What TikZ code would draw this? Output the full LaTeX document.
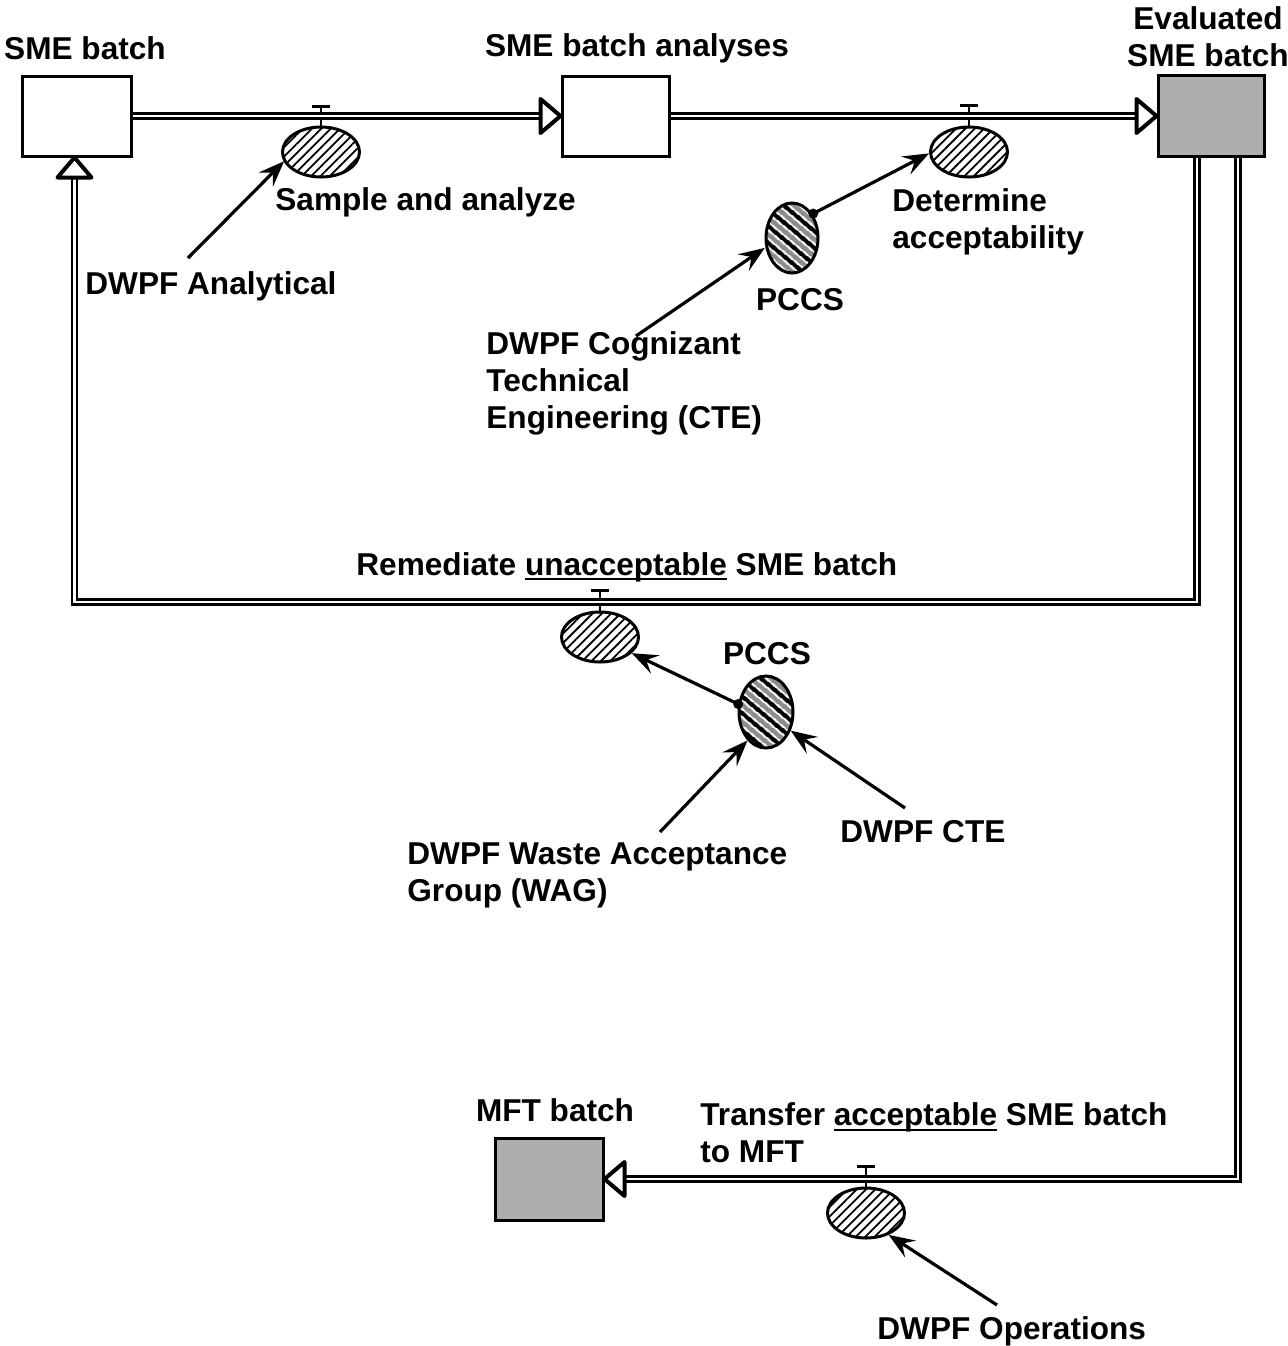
\documentclass[tikz,border=0pt]{standalone}
\usepackage{fontspec}
\setmainfont{Liberation Sans}
\usetikzlibrary{arrows.meta,shapes.geometric,patterns.meta,calc}
\newcommand\ulx[1]{\setbox0\hbox{#1}\rlap{\rule[-2.7pt]{\wd0}{1.1pt}}\box0\relax}
\begin{document}
\begin{tikzpicture}[x=0.5pt,y=-0.5pt,
  lbl/.style={font=\bfseries\fontsize{15.8}{18.5}\selectfont, inner sep=0pt, align=left},
  store/.style={draw, line width=1.5pt, rectangle, inner sep=0pt},
  act/.style={ellipse, draw, line width=1.5pt, inner sep=0pt, minimum width=38.5pt, minimum height=25pt,
    preaction={fill=white}, pattern={Lines[angle=45,distance=3.3pt,line width=0.9pt]}},
  mech/.style={ellipse, draw, line width=1.5pt, inner sep=0pt, minimum width=26pt, minimum height=35pt,
    preaction={fill=white},
    preaction={pattern={Lines[angle=-40,distance=6.5pt,line width=2.4pt,yshift=4.24pt]}, pattern color=black!45},
    pattern={Lines[angle=-40,distance=6.5pt,line width=2.2pt]}},
  flow/.style={double, double distance=1.3pt, line width=1.2pt, shorten >=9.5pt},
  otip/.style={draw, fill=white, line width=2pt, line join=round},
  ctrl/.style={line width=1.6pt, -{Stealth[length=13pt,width=10pt,inset=5pt]}},
  stem/.style={line width=1pt},
  bar/.style={line width=1.5pt},
]
\useasboundingbox (0,0) rectangle (1288,1346);

% stores
\node[store, minimum width=54.5pt, minimum height=40pt] (sme) at (76.5,116) {};
\node[store, minimum width=53.5pt, minimum height=40pt] (ana) at (615.5,116) {};
\node[store, fill=black!32, minimum width=53pt, minimum height=40.5pt] (eval) at (1211,116) {};
\node[store, fill=black!32, minimum width=54pt, minimum height=41pt] (mft) at (549,1179) {};

% activities
\node[act] (act1) at (321,152) {};
\node[act] (act2) at (969,152) {};
\node[act] (act3) at (600,637) {};
\node[act] (act4) at (866,1213) {};

% mechanisms
\node[mech] (mech1) at (792,238) {};
\node[mech, minimum width=27pt, minimum height=36pt] (mech2) at (766,712) {};

% valves
\foreach \a in {act1,act2,act3,act4}{
  \draw[stem] (\a.north) -- ++(0,-20) coordinate (t\a);
  \draw[bar] ($(t\a)+(-9,0)$) -- ($(t\a)+(9,0)$);
}

% flows
\draw[flow] (sme.east) -- (ana.west);
\draw[otip] (ana.west) -- ++(-20,-17) -- ++(0,34) -- cycle;
\draw[flow] (ana.east) -- (eval.west);
\draw[otip] (eval.west) -- ++(-20,-17) -- ++(0,34) -- cycle;
\coordinate (r1) at (1197,602);
\coordinate (sIn) at ($(sme.south)+(-2,0)$);
\draw[flow] ($(eval.south)+(-14,0)$) -- (r1) -| (sIn);
\draw[otip] (sIn) -- ++(-17,20) -- ++(34,0) -- cycle;
\draw[flow] ($(eval.south)+(27,0)$) |- (mft.east);
\draw[otip] (mft.east) -- ++(20,-17) -- ++(0,34) -- cycle;

% labels
\node[lbl, anchor=base] (tSME) at (85,59) {SME batch};
\node[lbl, anchor=base] (tAna) at (637,56) {SME batch analyses};
\node[lbl, anchor=north, align=center] (tEval) at (1208,6) {Evaluated\\SME batch};
\node[lbl, anchor=base west] (tSample) at (275,210) {Sample and analyze};
\node[lbl, anchor=north west] (tDet) at (892,188) {Determine\\acceptability};
\node[lbl] (tP1) at (800,300) {PCCS};
\node[lbl, anchor=base west] (tAnal) at (85,294) {DWPF Analytical};
\node[lbl, anchor=north west] (tCTE) at (486,331) {DWPF Cognizant\\Technical\\Engineering (CTE)};
\node[lbl, anchor=base west] (tRem) at (356,575) {Remediate \ulx{unacceptable} SME batch};
\node[lbl] (tP2) at (767,654) {PCCS};
\node[lbl, anchor=base west] (tCTE2) at (840,842) {DWPF CTE};
\node[lbl, anchor=north west] (tWAG) at (407,842) {DWPF Waste Acceptance\\Group (WAG)};
\node[lbl, anchor=base] (tMFT) at (555,1121) {MFT batch};
\node[lbl, anchor=north west] (tTr) at (700,1102) {Transfer \ulx{acceptable} SME batch\\to MFT};
\node[lbl, anchor=base west] (tOps) at (877,1339) {DWPF Operations};

% controls / mechanisms arrows
\coordinate (s1) at (188,258);
\coordinate (s2) at (636,336);
\coordinate (s3) at (660,832);
\coordinate (s4) at (905,808);
\coordinate (s5) at (997,1305);
\draw[ctrl] (s1) -- (act1.194);
\draw[ctrl] (s2) -- (mech1.200);
\draw[ctrl] (s3) -- (mech2.237);
\draw[ctrl] (s4) -- (mech2.323);
\draw[ctrl] (s5) -- (act4.316);
\draw[ctrl] (mech1.49) -- (act2.182);
\draw[ctrl] (mech2.164) -- (act3.333);
\fill (mech1.49) circle (2.5pt);
\fill (mech2.164) circle (2.5pt);
\end{tikzpicture}
\end{document}
